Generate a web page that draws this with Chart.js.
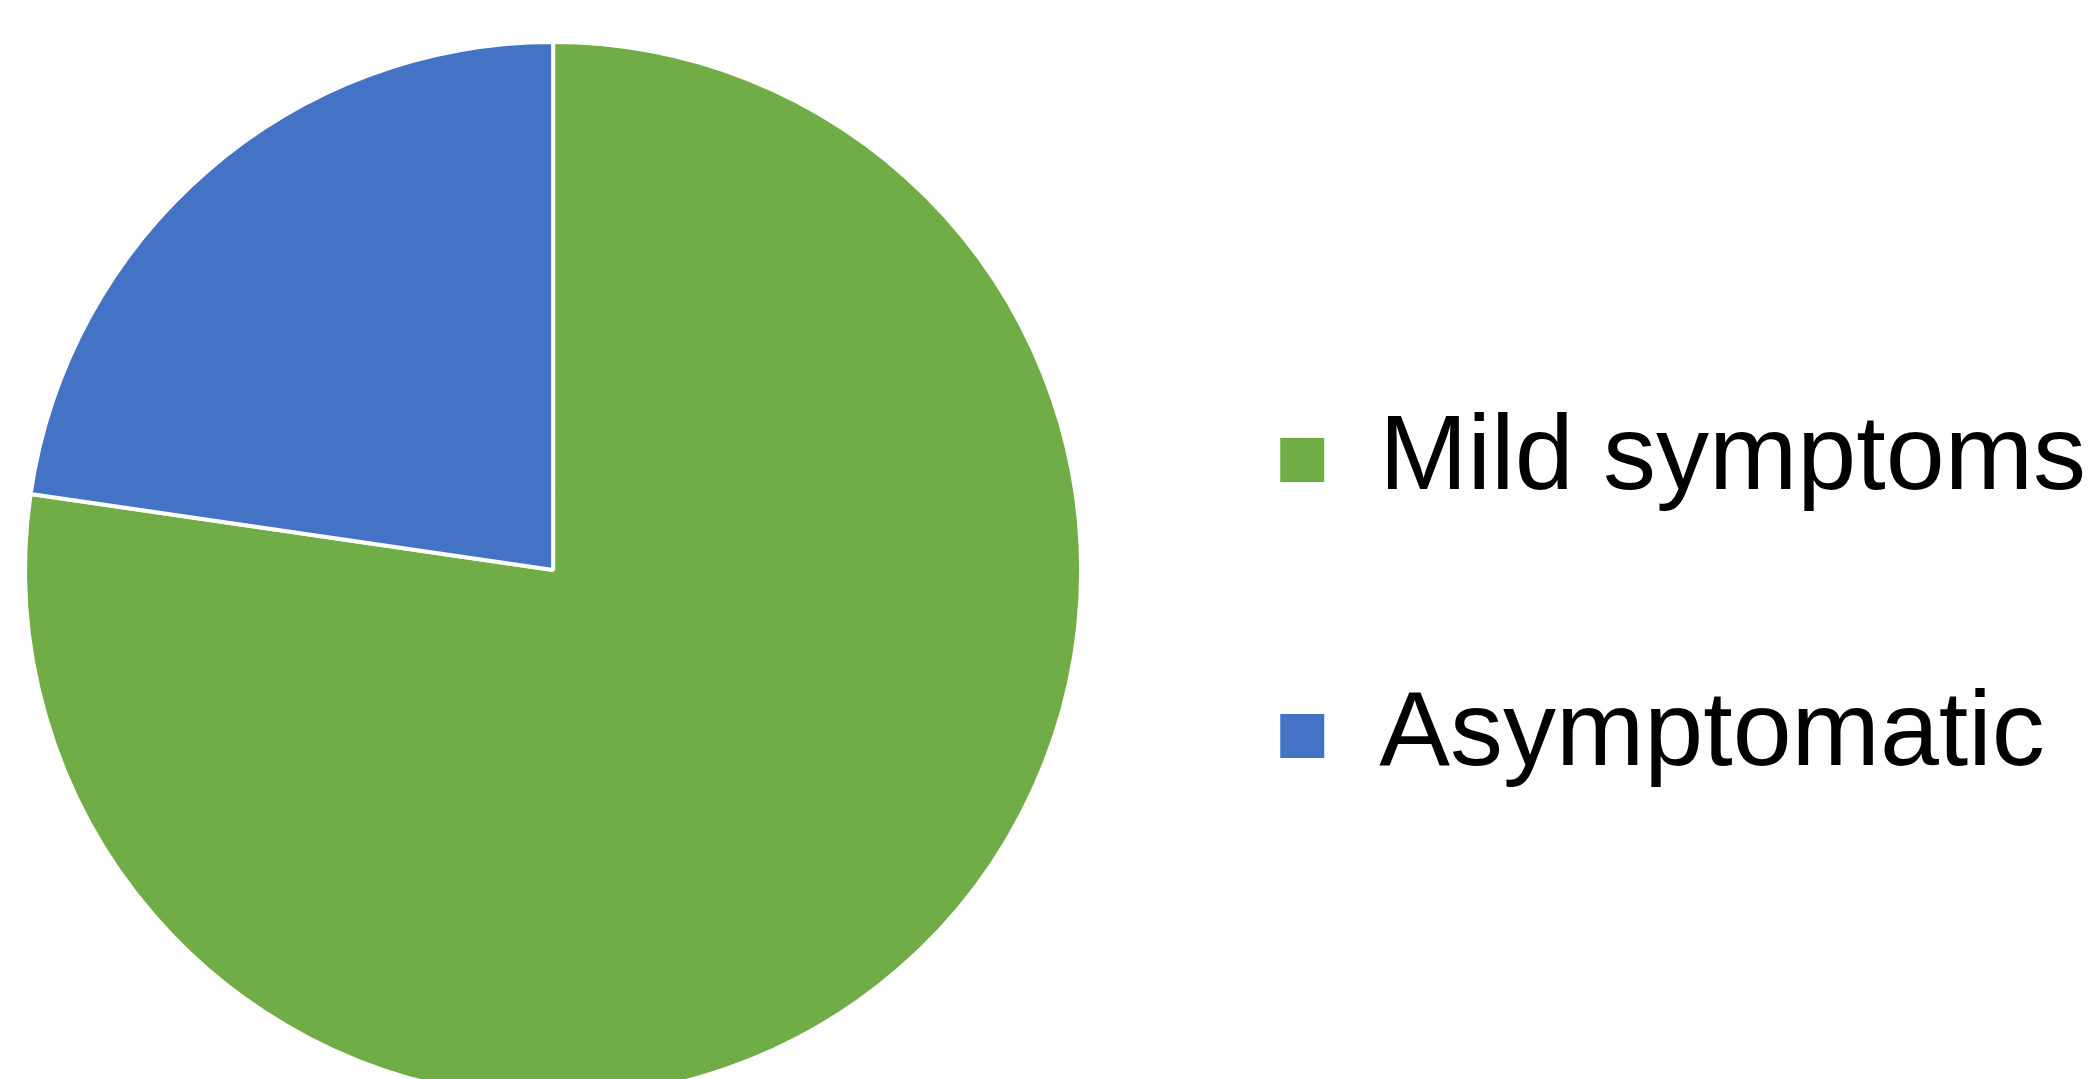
<!DOCTYPE html>
<html>
<head>
<meta charset="utf-8">
<title>Symptoms</title>
<script src="https://cdn.jsdelivr.net/npm/chart.js@4/dist/chart.umd.min.js"></script>
<style>
  html, body { margin: 0; padding: 0; background: #fff; overflow: hidden; }
  #chart { position: absolute; left: -12px; top: 0; }
</style>
</head>
<body>
<canvas id="chart" width="2108" height="1120"></canvas>
<script>
// share of cases
const categories = ['Mild symptoms', 'Asymptomatic'];
const shares = [77.3, 22.7];
const colors = ['#70AD47', '#4472C4'];

const canvas = document.getElementById('chart');

new Chart(canvas, {
  type: 'pie',
  data: {
    labels: categories,
    datasets: [
      {
        data: shares,
        backgroundColor: colors,
        hoverBackgroundColor: colors,
        borderColor: '#ffffff',
        borderWidth: 4,
        hoverBorderWidth: 4,
      },
    ],
  },
  options: {
    responsive: false,
    animation: false,
    layout: {
      padding: { left: 10, top: 40, right: 0, bottom: 20 },
    },
    plugins: {
      tooltip: { enabled: false },
      legend: {
        position: 'right',
        // empty title only pushes the items a bit lower than the pie centre
        title: { display: true, text: '', padding: 0, font: { size: 56, lineHeight: 1 } },
        labels: {
          boxWidth: 48,
          boxHeight: 48,
          padding: 170,
          color: '#000000',
          font: { family: '"Liberation Sans", Arial, sans-serif', size: 106 },
        },
      },
    },
  },
});
</script>
</body>
</html>
